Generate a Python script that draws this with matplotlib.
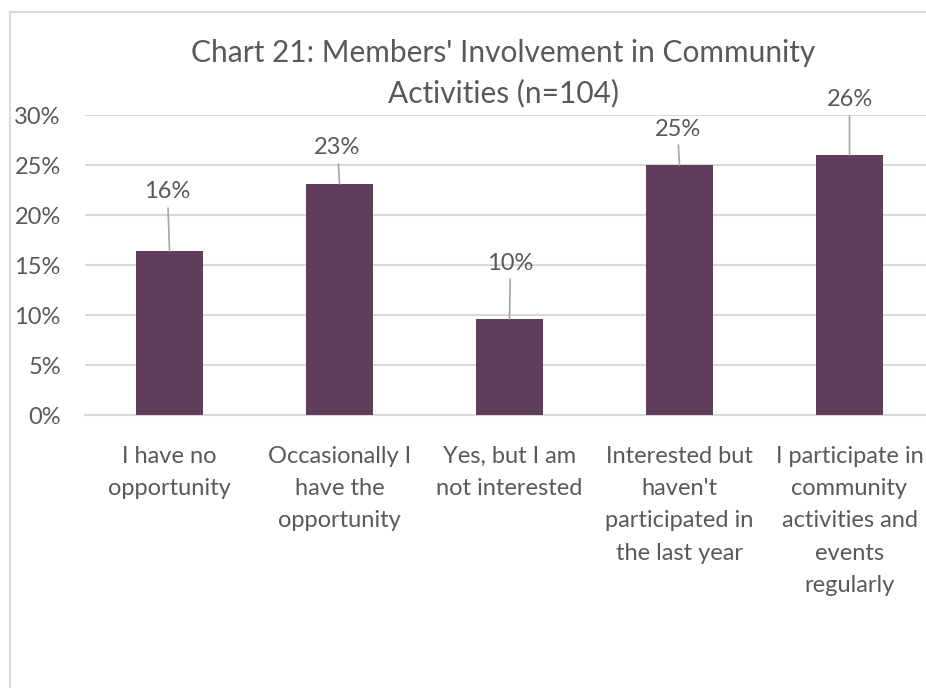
import numpy as np
import matplotlib
matplotlib.use("Agg")
import matplotlib.pyplot as plt
from matplotlib.patches import Rectangle

# survey answers and shares (%)
categories = ["I have no\nopportunity",
              "Occasionally I\nhave the\nopportunity",
              "Yes, but I am\nnot interested",
              "Interested but\nhaven't\nparticipated in\nthe last year",
              "I participate in\ncommunity\nactivities and\nevents\nregularly"]
values = [16.4, 23.1, 9.6, 25.0, 26.0]
labels = ["16%", "23%", "10%", "25%", "26%"]

# where each data label sits relative to its bar top (pixels)
label_dx = [-2, -2, 1, -2, 0]
label_dy = [59, 36, 56, 36, 55]

bar_color = "#603D5B"
text_color = "#595959"
grid_color = "#D9D9D9"

plt.rcParams['font.family'] = ['Lato', 'DejaVu Sans']

W, H = 926, 688
fig = plt.figure(figsize=(W / 100, H / 100), dpi=100)

# chart frame (cut off on the right and bottom)
fig.patches.append(Rectangle((10 / W, -0.1), 1.2, 1 - 12 / H + 0.1,
                             transform=fig.transFigure, fill=False,
                             edgecolor=grid_color, linewidth=1.5))

left, right = 84.5, 934.5
top, bottom = 115, 415
ax = fig.add_axes([left / W, 1 - bottom / H, (right - left) / W, (bottom - top) / H])

x = np.arange(len(categories))
ax.bar(x, values, width=0.395, color=bar_color, zorder=3)

ax.set_xlim(-0.5, len(categories) - 0.5)
ax.set_ylim(0, 30)
ax.set_yticks(np.arange(0, 31, 5))
ax.set_yticklabels([f"{v}%" for v in range(0, 31, 5)])
ax.yaxis.grid(True, color=grid_color, linewidth=1.5, zorder=0)
ax.set_xticks(x)
ax.set_xticklabels(categories, linespacing=1.67)
for s in ["left", "right", "top"]:
    ax.spines[s].set_visible(False)
ax.spines["bottom"].set_color(grid_color)
ax.spines["bottom"].set_linewidth(1.5)
ax.tick_params(axis="both", length=0, colors=text_color, labelsize=17)
ax.tick_params(axis="y", pad=17)
ax.tick_params(axis="x", pad=22)

for xi, v, lab, dx, dy in zip(x, values, labels, label_dx, label_dy):
    ax.annotate(lab, xy=(xi, v), xytext=(dx * 0.72, dy * 0.72),
                textcoords="offset points", ha="center", va="center",
                fontsize=17, color=text_color,
                arrowprops=dict(arrowstyle="-", color="#A6A6A6", lw=1.2,
                                shrinkA=2, shrinkB=0))

fig.text(0.5 * (197 + 810) / W, 1 - 73 / H,
         "Chart 21: Members' Involvement in Community\nActivities (n=104)",
         ha="center", va="center", fontsize=21.5, color=text_color,
         linespacing=1.5)

fig.savefig("out.png", dpi=100)
